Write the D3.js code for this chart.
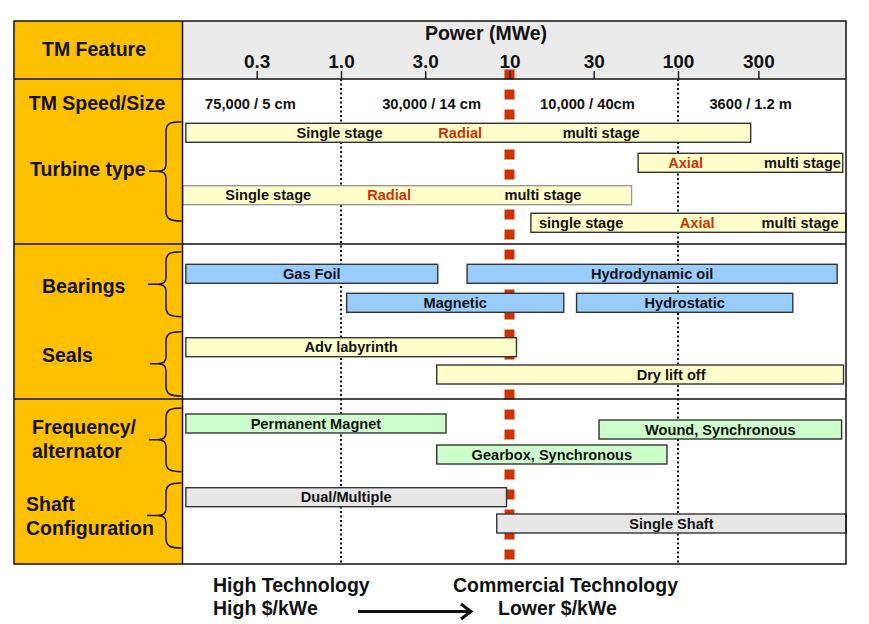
<!DOCTYPE html>
<html>
<head>
<meta charset="utf-8">
<script src="https://cdn.jsdelivr.net/npm/d3@7"></script>
<style>
  body { margin: 0; background: #fff; }
  svg text { font-family: "Liberation Sans", Arial, sans-serif; font-weight: bold; fill: #111; }
</style>
</head>
<body>
<svg id="chart" width="869" height="624"></svg>
<script>
// 数据：刻度（MWe，对数轴）
const tickValues = [0.316, 1, 3.16, 10, 31.6, 100, 300];
const tickLabels = ["0.3", "1.0", "3.0", "10", "30", "100", "300"];

// 转速 / 尺寸
const speedLabels = ["75,000 / 5 cm", "30,000 / 14 cm", "10,000 / 40cm", "3600 / 1.2 m"];
const speedAt = [0.29, 3.45, 29, 270];

// 每条横条：起止功率 lo/hi，所在行 row，文字 [文本, 位置(MWe), 是否红色]
const turbineBars = [
    { lo: 0.12, hi: 270, row: 0, labels: [["Single stage", 0.98], ["Radial", 5.1, true], ["multi stage", 35]] },
    { lo: 58, hi: 950, row: 1, labels: [["Axial", 111, true], ["multi stage", 548]] },
    { lo: 0.115, hi: 53, row: 2, labels: [["Single stage", 0.37], ["Radial", 1.93, true], ["multi stage", 15.8]] },
    { lo: 13.4, hi: 1000, row: 3, labels: [["single stage", 26.6], ["Axial", 130, true], ["multi stage", 530]] }
];
const bearingBars = [
    { lo: 0.12, hi: 3.75, row: 4, labels: [["Gas Foil"]] },
    { lo: 5.6, hi: 880, row: 4, labels: [["Hydrodynamic oil"]] },
    { lo: 1.08, hi: 21, row: 5, labels: [["Magnetic"]] },
    { lo: 25, hi: 480, row: 5, labels: [["Hydrostatic"]] }
];
const sealBars = [
    { lo: 0.12, hi: 11, row: 6, labels: [["Adv labyrinth"]] },
    { lo: 3.7, hi: 960, row: 7, labels: [["Dry lift off", 91]] }
];
const alternatorBars = [
    { lo: 0.12, hi: 4.2, row: 8, labels: [["Permanent Magnet"]] },
    { lo: 34, hi: 935, row: 9, labels: [["Wound, Synchronous"]] },
    { lo: 3.7, hi: 86, row: 10, labels: [["Gearbox, Synchronous"]] }
];
const shaftBars = [
    { lo: 0.12, hi: 9.6, row: 11, labels: [["Dual/Multiple"]] },
    { lo: 8.4, hi: 1000, row: 12, labels: [["Single Shaft"]] }
];

// 版式
const frame = { left: 14, top: 21, right: 846, bottom: 564 };
const colX = 182.5, headerY = 79;
const sectionLines = [244, 399];
const rowTop = [123.3, 153.3, 185.7, 213.3, 264.3, 293.3, 337.7, 365, 414, 420, 445, 487.7, 514];
const barH = 19;
const red = "#CC3300";

const svg = d3.select("#chart");

const x = d3.scaleLog()
    .domain([1, 100])
    .range([341, 678]);
const clampX = v => Math.max(colX, Math.min(frame.right, x(v)));

// 背景
svg.append("rect")
    .attr("x", frame.left).attr("y", frame.top)
    .attr("width", colX - frame.left).attr("height", frame.bottom - frame.top)
    .attr("fill", "#FFC000");
svg.append("rect")
    .attr("x", colX).attr("y", frame.top)
    .attr("width", frame.right - colX).attr("height", headerY - frame.top)
    .attr("fill", "#EBEBEB");

// 1.0 和 100 的点线
svg.append("g")
    .selectAll("line")
    .data([1, 100])
    .enter()
    .append("line")
    .attr("x1", d => x(d)).attr("x2", d => x(d))
    .attr("y1", headerY).attr("y2", frame.bottom)
    .attr("stroke", "#111")
    .attr("stroke-width", 2)
    .attr("stroke-dasharray", "2,2.5");

// 10 MWe 红色虚线
svg.append("line")
    .attr("x1", x(10)).attr("x2", x(10))
    .attr("y1", 69.5).attr("y2", 560)
    .attr("stroke", red)
    .attr("stroke-width", 10)
    .attr("stroke-dasharray", "10,10");

// 坐标轴
const axis = svg.append("g")
    .attr("transform", `translate(0,${headerY})`)
    .call(d3.axisTop(x)
        .tickValues(tickValues)
        .tickSize(8)
        .tickPadding(3)
        .tickFormat((d, i) => tickLabels[i]));
axis.select(".domain").remove();
axis.selectAll(".tick line").attr("stroke", "#222").attr("stroke-width", 1.5);
axis.selectAll(".tick text")
    .attr("font-size", 19)
    .attr("fill", "#111")
    .attr("font-family", null);

svg.append("text")
    .attr("x", 486).attr("y", 39.5)
    .attr("text-anchor", "middle")
    .attr("font-size", 19.5)
    .text("Power (MWe)");

svg.append("text")
    .attr("x", 94).attr("y", 56)
    .attr("text-anchor", "middle")
    .attr("font-size", 19.5)
    .text("TM Feature");

// 转速标签
svg.append("g")
    .selectAll("text")
    .data(speedLabels)
    .enter()
    .append("text")
    .attr("x", (d, i) => x(speedAt[i]))
    .attr("y", 109)
    .attr("text-anchor", "middle")
    .attr("font-size", 14.7)
    .text(d => d);

// 横条
const groups = [
    [turbineBars, "#FFFFCC"],
    [bearingBars, "#99CCFF"],
    [sealBars, "#FFFFCC"],
    [alternatorBars, "#CCFFCC"],
    [shaftBars, "#E8E8E8"]
];

groups.forEach(([bars, fill]) => {
    const g = svg.append("g").selectAll("g")
        .data(bars)
        .enter()
        .append("g");

    g.append("rect")
        .attr("x", d => clampX(d.lo))
        .attr("y", d => rowTop[d.row])
        .attr("width", d => clampX(d.hi) - clampX(d.lo))
        .attr("height", barH)
        .attr("fill", fill)
        .attr("stroke", d => d.lo <= 0.115 ? "#9a9a9a" : "#333")
        .attr("stroke-width", 1.4);

    g.selectAll("text")
        .data(d => d.labels.map(l => ({
            text: l[0],
            at: l[1] != null ? x(l[1]) : (clampX(d.lo) + clampX(d.hi)) / 2,
            red: !!l[2],
            y: rowTop[d.row] + 14.6
        })))
        .enter()
        .append("text")
        .attr("x", d => d.at)
        .attr("y", d => d.y)
        .attr("text-anchor", "middle")
        .attr("font-size", 14.6)
        .style("fill", d => d.red ? red : "#111")
        .text(d => d.text);
});

// 边框与分隔线
svg.append("rect")
    .attr("x", frame.left).attr("y", frame.top)
    .attr("width", frame.right - frame.left).attr("height", frame.bottom - frame.top)
    .attr("fill", "none")
    .attr("stroke", "#111")
    .attr("stroke-width", 1.5);

svg.append("line")
    .attr("x1", colX).attr("x2", colX)
    .attr("y1", frame.top).attr("y2", frame.bottom)
    .attr("stroke", "#111").attr("stroke-width", 1.5);

svg.append("g")
    .selectAll("line")
    .data([headerY, ...sectionLines])
    .enter()
    .append("line")
    .attr("x1", frame.left).attr("x2", frame.right)
    .attr("y1", d => d).attr("y2", d => d)
    .attr("stroke", "#111").attr("stroke-width", 1.5);

// 左侧分类
const sideLabels = [
    { lines: ["TM Speed/Size"], x: 97, y: 110, anchor: "middle" },
    { lines: ["Turbine type"], x: 30, y: 175.5 },
    { lines: ["Bearings"], x: 42, y: 293 },
    { lines: ["Seals"], x: 42, y: 361.5 },
    { lines: ["Frequency/", "alternator"], x: 32, y: 434 },
    { lines: ["Shaft", "Configuration"], x: 26, y: 511 }
];

sideLabels.forEach(s => {
    s.lines.forEach((t, i) => {
        svg.append("text")
            .attr("x", s.x)
            .attr("y", s.y + i * 24)
            .attr("text-anchor", s.anchor || "start")
            .attr("font-size", 19.5)
            .text(t);
    });
});

// 花括号
const braces = [
    [121.7, 221, 149],
    [251.7, 316.7, 148],
    [331.7, 396, 150],
    [408, 471.7, 149],
    [483, 548, 147]
];

svg.append("g")
    .selectAll("path")
    .data(braces)
    .enter()
    .append("path")
    .attr("d", ([y0, y1, tip]) => {
        const m = (y0 + y1) / 2, bx = 166, r = colX - 1;
        return `M${r},${y0} C${bx + 4},${y0} ${bx},${y0 + 2} ${bx},${y0 + 10}` +
            ` L${bx},${m - 7} C${bx},${m - 2} ${bx - 3},${m} ${bx - 8},${m} L${tip},${m}` +
            ` M${bx - 8},${m} C${bx - 3},${m} ${bx},${m + 2} ${bx},${m + 7}` +
            ` L${bx},${y1 - 10} C${bx},${y1 - 2} ${bx + 4},${y1} ${r},${y1}`;
    })
    .attr("fill", "none")
    .attr("stroke", "#111")
    .attr("stroke-width", 1.5);

// 底部说明
const footer = [
    ["High Technology", 213, 591.5],
    ["High $/kWe", 213, 615],
    ["Commercial Technology", 453, 591.5],
    ["Lower $/kWe", 498, 615]
];

svg.append("g")
    .selectAll("text")
    .data(footer)
    .enter()
    .append("text")
    .attr("x", d => d[1])
    .attr("y", d => d[2])
    .attr("font-size", 19.5)
    .text(d => d[0]);

svg.append("path")
    .attr("d", "M358,611.5 L471,611.5 M461,604 L471,611.5 L461,619")
    .attr("fill", "none")
    .attr("stroke", "#111")
    .attr("stroke-width", 3);
</script>
</body>
</html>
